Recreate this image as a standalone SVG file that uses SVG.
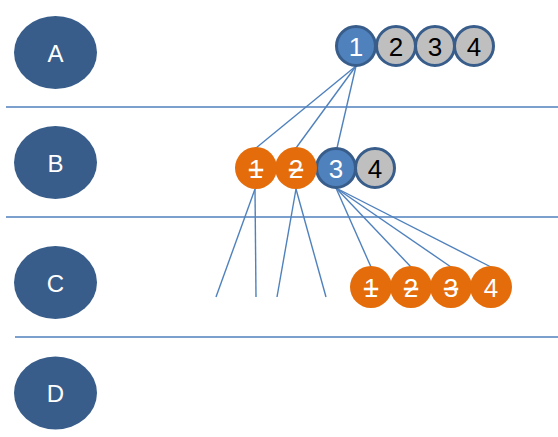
<svg xmlns="http://www.w3.org/2000/svg" width="558" height="437" viewBox="0 0 558 437">
  <style>
    .lane { fill: #385d8a; }
    .lane-label { fill: #ffffff; font-family: "Liberation Sans", Arial, sans-serif; font-size: 24px; text-anchor: middle; dominant-baseline: central; }
    .sep { stroke: #4f81bd; stroke-width: 1.6; fill: none; }
    .edge { stroke: #4f81bd; stroke-width: 1.4; fill: none; }
    .num { font-family: "Liberation Sans", Arial, sans-serif; font-size: 26px; text-anchor: middle; dominant-baseline: central; }
    .blue circle { fill: #4f81bd; stroke: #385d8a; stroke-width: 3; }
    .blue text { fill: #ffffff; }
    .gray circle { fill: #bfbfbf; stroke: #385d8a; stroke-width: 3; }
    .gray text { fill: #000000; }
    .orange circle { fill: #e46c0a; }
    .orange text { fill: #ffffff; }
    .struck { text-decoration: line-through; }
  </style>

  <!-- lane separators -->
  <g id="separators">
    <line class="sep" x1="6" y1="107" x2="558" y2="107"/>
    <line class="sep" x1="6" y1="217" x2="558" y2="217"/>
    <line class="sep" x1="15" y1="337" x2="558" y2="337"/>
  </g>

  <!-- lane labels -->
  <g id="lane-A"><ellipse class="lane" cx="55.5" cy="52.5" rx="41.5" ry="36.5"/><text class="lane-label" x="55.5" y="53">A</text></g>
  <g id="lane-B"><ellipse class="lane" cx="55.5" cy="162.5" rx="41.5" ry="36.5"/><text class="lane-label" x="55.5" y="163">B</text></g>
  <g id="lane-C"><ellipse class="lane" cx="55.5" cy="282.5" rx="41.5" ry="36.5"/><text class="lane-label" x="55.5" y="283">C</text></g>
  <g id="lane-D"><ellipse class="lane" cx="55.5" cy="393" rx="41.5" ry="36.5"/><text class="lane-label" x="55.5" y="393.5">D</text></g>

  <!-- connectors -->
  <g id="connectors">
    <line class="edge" x1="356" y1="66" x2="256" y2="148"/>
    <line class="edge" x1="356" y1="66" x2="296" y2="148"/>
    <line class="edge" x1="356" y1="66" x2="337" y2="148"/>

    <line class="edge" x1="255" y1="189" x2="216" y2="297"/>
    <line class="edge" x1="255" y1="189" x2="256" y2="297"/>
    <line class="edge" x1="296" y1="189" x2="277" y2="297"/>
    <line class="edge" x1="296" y1="189" x2="326" y2="297"/>

    <line class="edge" x1="336" y1="188" x2="371" y2="267"/>
    <line class="edge" x1="336" y1="188" x2="411" y2="267"/>
    <line class="edge" x1="336" y1="188" x2="451" y2="267"/>
    <line class="edge" x1="336" y1="188" x2="491" y2="267"/>
  </g>

  <!-- row A -->
  <g id="a4" class="gray"><circle cx="474" cy="46" r="19.5"/><text class="num" x="474" y="47">4</text></g>
  <g id="a3" class="gray"><circle cx="435" cy="46" r="19.5"/><text class="num" x="435" y="47">3</text></g>
  <g id="a2" class="gray"><circle cx="396" cy="46" r="19.5"/><text class="num" x="396" y="47">2</text></g>
  <g id="a1" class="blue"><circle cx="356" cy="46" r="19.5"/><text class="num" x="356" y="47">1</text></g>

  <!-- row B -->
  <g id="b4" class="gray"><circle cx="375" cy="168" r="19.5"/><text class="num" x="375" y="169">4</text></g>
  <g id="b3" class="blue"><circle cx="336" cy="168" r="19.5"/><text class="num" x="336" y="169">3</text></g>
  <g id="b2" class="orange"><circle cx="296" cy="168" r="21"/><text class="num struck" x="296" y="169">2</text></g>
  <g id="b1" class="orange"><circle cx="256" cy="168" r="21"/><text class="num struck" x="256" y="169">1</text></g>

  <!-- row C -->
  <g id="c1" class="orange"><circle cx="371" cy="287" r="21"/><text class="num struck" x="371" y="288">1</text></g>
  <g id="c2" class="orange"><circle cx="411" cy="287" r="21"/><text class="num struck" x="411" y="288">2</text></g>
  <g id="c3" class="orange"><circle cx="451" cy="287" r="21"/><text class="num struck" x="451" y="288">3</text></g>
  <g id="c4" class="orange"><circle cx="491" cy="287" r="21"/><text class="num" x="491" y="288">4</text></g>
</svg>
